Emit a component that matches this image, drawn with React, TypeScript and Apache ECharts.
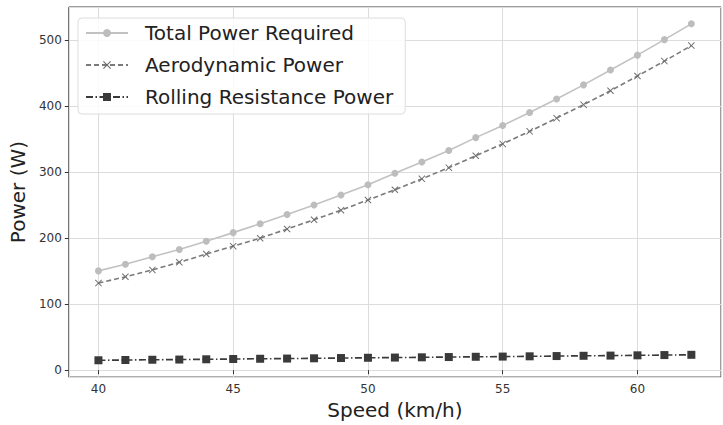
import React, { useEffect, useRef } from "react";
import * as echarts from "echarts";

const speeds = [40, 41, 42, 43, 44, 45, 46, 47, 48, 49, 50, 51, 52, 53, 54, 55, 56, 57, 58, 59, 60, 61, 62];
const totalPower = [150.5, 160.5, 172, 183, 195.5, 208.5, 222, 236, 250.5, 265.5, 281, 298.5, 315.5, 333, 352.5, 371, 390.5, 411, 432.5, 455, 477.5, 501, 525];
const aeroPower = [132, 141.5, 152, 163.5, 176, 188, 200, 214, 228, 242.5, 258, 273.5, 290, 307, 325, 343, 362, 382, 402.5, 423.5, 446, 468.5, 492];
const rollingPower = [15, 15.4, 15.8, 16.1, 16.5, 16.9, 17.3, 17.6, 18, 18.4, 18.8, 19.1, 19.5, 19.9, 20.3, 20.6, 21, 21.4, 21.8, 22.1, 22.5, 22.9, 23.3];
const seriesNames = ["Total Power Required", "Aerodynamic Power", "Rolling Resistance Power"];

const FONT = "DejaVu Sans";
const X_SYMBOL = "path://M0,1 L1,0 L5,4 L9,0 L10,1 L6,5 L10,9 L9,10 L5,6 L1,10 L0,9 L4,5 Z";

export default function App() {
  const ref = useRef<HTMLDivElement>(null);
  useEffect(() => {
    if (!ref.current) return;
    const chart = echarts.init(ref.current, undefined, { renderer: "svg" });
    const pair = (ys: number[]) => speeds.map((x, i) => [x, ys[i]]);
    chart.setOption({
      animation: false,
      backgroundColor: "#ffffff",
      textStyle: { fontFamily: FONT },
      grid: {
        left: 67,
        right: 2,
        top: 7,
        bottom: 46,
        show: true,
        borderColor: "#3a3a3a",
        borderWidth: 1,
        backgroundColor: "transparent",
      },
      legend: {
        orient: "vertical",
        left: 78,
        top: 18,
        padding: [4, 12, 6, 7],
        backgroundColor: "rgba(255,255,255,0.85)",
        borderColor: "#dddddd",
        borderWidth: 1,
        borderRadius: 4,
        itemWidth: 42,
        itemHeight: 10,
        itemGap: 10,
        data: seriesNames,
        textStyle: {
          fontFamily: FONT,
          fontSize: 20,
          color: "#222222",
          lineHeight: 22,
          padding: [0, 0, 0, 12],
        },
      },
      xAxis: {
        type: "value",
        min: 38.9,
        max: 63.1,
        splitNumber: 5,
        name: "Speed (km/h)",
        nameLocation: "middle",
        nameGap: 20,
        nameTextStyle: { fontFamily: FONT, fontSize: 20, color: "#222222" },
        axisLine: { show: false },
        axisTick: { show: true, length: 4, lineStyle: { color: "#333333" } },
        axisLabel: {
          showMinLabel: false,
          showMaxLabel: false,
          fontFamily: FONT,
          fontSize: 12,
          color: "#333333",
          margin: 6,
        },
        splitLine: { show: true, lineStyle: { color: "#dcdcdc", width: 1 } },
      },
      yAxis: {
        type: "value",
        min: -10.5,
        max: 550.5,
        splitNumber: 5,
        name: "Power (W)",
        nameLocation: "middle",
        nameGap: 25,
        nameRotate: 90,
        nameTextStyle: { fontFamily: FONT, fontSize: 20, color: "#222222" },
        axisLine: { show: false },
        axisTick: { show: true, length: 4, lineStyle: { color: "#333333" } },
        axisLabel: {
          showMinLabel: false,
          showMaxLabel: false,
          fontFamily: FONT,
          fontSize: 12,
          color: "#333333",
          margin: 7,
        },
        splitLine: { show: true, lineStyle: { color: "#dcdcdc", width: 1 } },
      },
      series: [
        {
          name: seriesNames[0],
          type: "line",
          data: pair(totalPower),
          symbol: "circle",
          symbolSize: 7,
          lineStyle: { color: "#c2c2c2", width: 1.6, type: "solid" },
          itemStyle: { color: "#bdbdbd" },
          z: 3,
        },
        {
          name: seriesNames[1],
          type: "line",
          data: pair(aeroPower),
          symbol: X_SYMBOL,
          symbolSize: 7,
          lineStyle: { color: "#7a7a7a", width: 1.6, type: [5, 3] },
          itemStyle: { color: "#6e6e6e" },
          z: 4,
        },
        {
          name: seriesNames[2],
          type: "line",
          data: pair(rollingPower),
          symbol: "rect",
          symbolSize: 8,
          lineStyle: { color: "#3a3a3a", width: 1.6, type: [7, 2.5, 1.5, 2.5] },
          itemStyle: { color: "#3a3a3a" },
          z: 5,
        },
      ],
    });
    return () => chart.dispose();
  }, []);
  return <div ref={ref} style={{ width: 723, height: 425, position: "absolute", left: 0, top: 0 }} />;
}
